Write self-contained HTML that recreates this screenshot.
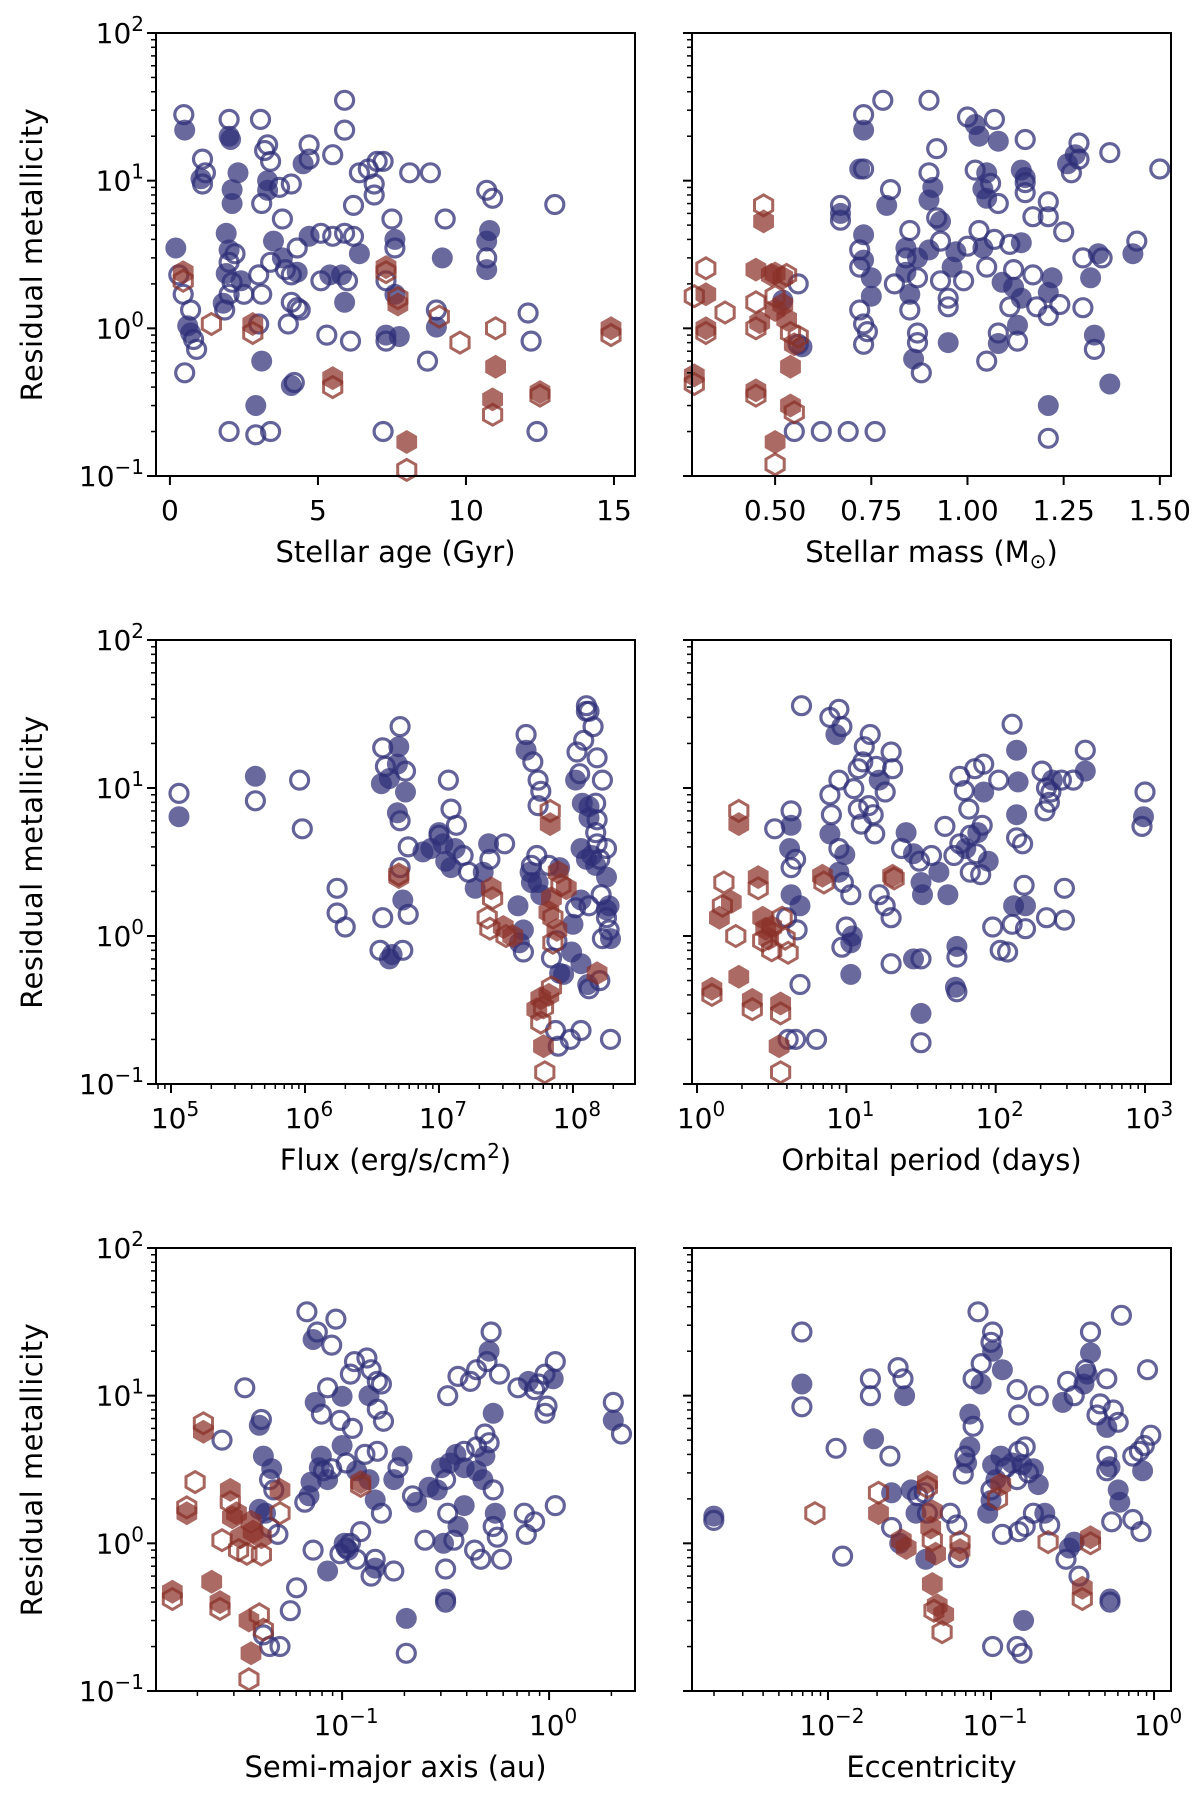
<!DOCTYPE html>
<html><head><meta charset="utf-8">
<style>
html,body{margin:0;padding:0;background:#fff;}
svg{display:block;font-family:"DejaVu Sans","Liberation Sans",sans-serif;}
</style></head>
<body>
<svg id="fig" width="1200" height="1798" viewBox="0 0 1200 1798" xmlns="http://www.w3.org/2000/svg"></svg>
<script>
// type codes: 0 = blue open circle, 1 = blue filled circle, 2 = red open hexagon, 3 = red filled hexagon
const agePoints = [[0.47,28,0],[0.5,22,1],[1.1,14,0],[1.2,11.3,0],[1.1,9.5,0],[1.05,10.3,1],[2.0,26,0],[2.0,20,1],[2.05,19,1],[3.06,26,0],[3.3,17.5,0],[3.4,13.5,0],[3.2,16,0],[3.3,10,1],[3.3,8.6,1],[3.1,7,0],[2.3,11.3,1],[2.1,8.7,1],[2.1,7,1],[3.7,9,0],[3.8,5.5,0],[4.1,9.5,0],[4.7,14,0],[4.7,17.5,0],[4.5,13,1],[5.5,15,0],[5.9,35,0],[5.9,22,0],[6.2,6.8,0],[6.4,11.3,0],[6.7,12,0],[7.0,13.5,0],[7.2,13.5,0],[6.9,9.5,0],[6.9,8,0],[7.5,5.5,0],[7.6,3.5,0],[7.6,4,1],[8.1,11.3,0],[8.8,11.3,0],[9.3,5.5,0],[9.2,3,1],[10.7,8.6,0],[10.9,7.6,0],[10.7,3.9,1],[10.8,4.6,1],[10.7,3,0],[10.7,2.5,1],[13,6.9,0],
[0.2,3.5,1],[0.3,2.3,0],[0.45,1.7,0],[0.45,2.4,3],[0.45,2.1,2],[0.7,0.93,1],[0.6,1.04,1],[0.7,1.33,0],[0.8,0.84,0],[0.9,0.72,0],[0.5,0.5,0],[1.4,1.07,2],[1.9,4.4,1],[1.9,2.35,1],[2.0,2.8,0],[2.0,3.4,1],[2.2,3.2,0],[2.1,2.05,0],[2.0,1.7,0],[1.8,1.48,1],[1.85,1.33,0],[2.4,2.1,1],[2.5,1.7,0],[2.8,1.07,3],[2.8,0.93,2],[3.0,1.07,0],[3.0,2.3,0],[3.1,1.7,0],[3.1,0.6,1],[2.9,0.3,1],[2.0,0.2,0],[2.9,0.19,0],[3.4,0.2,0],[3.4,2.8,0],[3.8,3.0,1],[3.5,3.9,1],[3.9,2.5,0],[4.3,2.4,1],[4.1,1.5,0],[4.3,1.38,0],[4.0,1.07,0],[4.4,1.33,0],[4.1,0.41,1],[4.2,0.43,0],[5.1,2.1,0],[5.4,2.3,1],[5.3,0.9,0],[5.5,0.46,3],[5.5,0.4,2],[5.8,2.3,1],[6.0,2.1,0],[5.9,1.5,1],[6.1,0.82,0],[5.1,4.4,0],[5.5,4.2,0],[5.9,4.4,0],[6.2,4.2,0],[6.4,3.2,1],[4.7,4.2,1],[4.3,3.5,0],[4.1,2.3,0],[7.3,2.1,0],[7.3,2.6,3],[7.3,2.4,2],[7.6,1.7,1],[7.7,1.45,3],[7.7,1.6,2],[7.3,0.9,1],[7.3,0.82,0],[7.75,0.88,1],[7.2,0.2,0],[8.0,0.17,3],[8.0,0.11,2],[9.0,1.33,0],[9.1,1.2,2],[9.0,1.02,1],[8.7,0.6,0],[9.8,0.8,2],[11.0,1.0,2],[11.0,0.55,3],[10.9,0.33,3],[10.9,0.26,2],[12.1,1.27,0],[12.2,0.82,0],[12.5,0.37,3],[12.5,0.35,2],[12.4,0.2,0],[14.9,1.0,3],[14.9,0.9,2]];

const massPoints = [[0.29,1.65,2],[0.32,2.55,2],[0.32,1.7,3],[0.32,1.0,3],[0.32,0.93,2],[0.29,0.48,3],[0.29,0.42,2],[0.47,6.8,2],[0.47,5.3,3],[0.37,1.28,2],[0.45,2.5,3],[0.45,1.5,2],[0.46,1.1,3],[0.45,1.0,2],[0.49,2.3,3],[0.5,2.35,3],[0.52,2.2,3],[0.53,2.3,2],[0.5,1.33,3],[0.5,1.65,2],[0.45,0.38,3],[0.45,0.35,2],[0.53,1.15,3],[0.54,0.93,2],[0.55,0.78,3],[0.56,0.88,2],[0.54,0.55,3],[0.54,0.3,3],[0.55,0.27,2],[0.5,0.17,3],[0.5,0.12,2],[0.52,1.45,3],
[0.52,1.55,1],[0.56,0.78,0],[0.57,0.75,1],[0.56,2.0,0],[0.55,0.2,0],[0.62,0.2,0],[0.69,0.2,0],[0.76,0.2,0],[0.67,6.8,0],[0.67,6,1],[0.67,5.4,0],[0.72,12,1],[0.73,12,0],[0.73,22,1],[0.73,28,0],[0.78,35,0],[0.8,8.7,0],[0.79,6.8,1],[0.73,4.3,1],[0.72,3.4,0],[0.72,2.6,0],[0.73,2.9,1],[0.75,2.2,1],[0.75,1.65,1],[0.72,1.33,0],[0.73,1.07,0],[0.74,0.95,0],[0.73,0.78,0],
[0.84,2.4,1],[0.81,2.0,0],[0.85,1.7,1],[0.85,1.33,0],[0.87,0.93,0],[0.86,0.62,1],[0.87,0.8,0],[0.88,0.5,0],[0.85,4.6,0],[0.84,3.5,1],[0.87,3,1],[0.84,3,0],[0.9,3.4,1],[0.87,2.2,0],[0.9,35,0],[0.92,16.5,0],[0.9,11.3,0],[0.91,9,1],[0.9,7.4,1],[0.92,5.6,0],[0.93,3.9,0],[0.93,5.3,1],[0.93,2.1,0],[0.95,1.4,0],[0.95,1.6,0],[0.95,0.8,1],[0.99,2.1,0],[1.0,27,0],[1.03,20,1],[1.02,24,1],[1.07,26,0],[1.08,18.5,1],[1.15,19,0],[1.02,11.8,0],[1.05,11.3,1],[1.06,9.6,0],[1.04,8.8,1],[1.05,7.6,1],[1.08,7.0,0],[1.03,4.6,0],[1.04,3.5,1],[1.07,4,0],[1.11,3.7,0],[1.14,3.8,1],[1.05,2.6,0],[1.09,2.05,1],[1.12,1.9,1],[1.14,1.6,1],[1.12,2.5,0],[1.17,2.3,0],[1.18,1.4,0],[1.11,1.4,0],[1.08,0.93,0],[1.13,0.82,0],[1.13,1.05,1],[1.05,0.6,0],[1.14,11.8,1],[1.15,10.5,1],[1.15,9.7,0],[1.15,8.3,0],[1.17,5.7,0],[1.21,7.2,0],[1.28,15,1],[1.29,14,0],[1.29,18,0],[1.37,15.5,0],[1.5,12,0],[1.21,5.7,0],[1.25,4.5,0],[1.22,2.2,1],[1.21,1.75,1],[1.24,1.45,0],[1.21,1.22,0],[1.3,1.38,0],[1.32,2.2,1],[1.3,3.0,0],[1.34,3.2,1],[1.35,3.0,0],[1.43,3.2,1],[1.44,3.9,0],[1.33,0.9,1],[1.33,0.72,0],[1.37,0.42,1],[1.21,0.3,1],[1.21,0.18,0],[1.08,0.79,1],[1.27,11.3,0],[1.26,13,1],[0.97,3.3,1],[1.0,3.6,0],[0.96,2.6,1]];

const logFluxPoints = [[5.06,9.2,0],[5.06,6.4,1],[5.63,12,1],[5.63,8.2,0],[5.96,11.3,0],[5.98,5.3,0],[6.24,2.1,0],[6.24,1.43,0],[6.3,1.15,0],[6.58,1.33,0],[6.56,0.8,0],[6.65,0.75,1],[6.63,0.7,1],[6.73,0.8,0],[6.57,10.7,1],[6.6,14,0],[6.58,18.7,0],[6.63,11.6,1],[6.69,14.5,1],[6.7,19,1],[6.71,26,0],[6.75,13,0],[6.75,9.4,1],[6.69,6.8,1],[6.71,6,0],[6.77,4.0,0],[6.73,1.75,1],[6.77,1.4,0],[6.71,2.9,0],[6.7,2.5,3],[6.7,2.6,2],
[6.88,3.7,1],[6.94,3.9,1],[7.03,4.2,1],[7.0,4.8,0],[7.09,7.2,0],[7.13,5.6,0],[7.05,3.2,1],[7.09,2.9,1],[7.12,3.9,1],[7.07,11.3,0],[7.0,5,1],[7.18,3.5,0],[7.22,2.7,0],[7.27,2.1,1],[7.33,2.7,1],[7.37,4.2,1],[7.38,3.3,0],[7.39,2.1,3],[7.4,1.8,2],[7.36,1.33,2],[7.38,1.12,2],[7.48,1.15,3],[7.5,1.0,2],[7.55,1.0,3],[7.6,0.9,1],[7.63,1.1,1],[7.63,0.78,0],[7.49,4.2,0],[7.59,1.6,1],[7.69,2.3,1],[7.69,3,0],[7.73,3.5,0],
[7.65,23,0],[7.65,18,1],[7.7,15,0],[7.74,11.3,0],[7.76,9.5,0],[7.74,7.6,0],[7.68,2.7,1],[7.74,2.3,1],[7.76,1.9,1],[7.84,1.8,3],[7.82,1.45,3],[7.85,1.33,2],[7.88,1.1,3],[7.85,0.9,2],[7.83,7,2],[7.83,5.7,3],[7.91,2.2,2],[7.89,2.7,3],[7.82,3.0,0],[7.9,2.9,1],[7.95,2.1,3],
[7.76,0.38,3],[7.78,0.33,2],[7.82,0.4,3],[7.84,0.45,2],[7.73,0.32,3],[7.76,0.26,2],[7.78,0.18,3],[7.79,0.12,2],[7.87,0.23,0],[7.89,0.18,0],[7.88,0.93,0],[7.84,0.71,0],[7.9,0.56,1],
[8.02,11.3,1],[8.05,12.5,0],[8.03,17.5,0],[8.08,21,0],[8.1,33,0],[8.1,36,0],[8.12,33,0],[8.15,26,0],[8.18,16,0],[8.22,11.3,0],[8.17,7.9,0],[8.18,6.1,0],[8.12,7.5,1],[8.07,7.9,1],[8.12,6.3,1],[8.17,5.0,0],[8.18,4.2,0],
[8.06,3.9,1],[8.1,3.3,1],[8.14,3.5,1],[8.17,3.0,1],[8.2,3.3,0],[8.25,3.9,0],[8.25,2.5,1],[8.21,1.9,0],[8.27,1.6,1],[8.25,1.33,0],[8.27,1.1,0],[8.22,0.96,0],[8.28,0.96,1],[8.25,1.5,1],[8.12,1.6,0],[8.06,1.75,1],[8.02,1.55,0],[8.0,1.2,1],[7.99,0.78,1],[8.06,0.65,1],[8.11,0.47,1],[8.12,0.44,0],[8.18,0.56,3],[8.2,0.5,0],[8.28,0.2,0],[8.06,0.23,0],[7.98,0.2,0],[7.93,0.55,1]];

const logPeriodPoints = [[0.1,0.44,3],[0.1,0.4,2],[0.28,0.53,3],[0.15,1.33,3],[0.17,1.6,2],[0.18,2.3,2],[0.28,7,2],[0.28,5.7,3],[0.37,0.37,3],[0.37,0.32,2],[0.56,0.35,3],[0.56,0.3,2],[0.55,0.18,3],[0.56,0.12,2],[0.26,1.0,2],[0.23,1.7,3],[0.41,2.5,3],[0.41,2.1,2],[0.44,1.33,3],[0.46,1.12,3],[0.44,0.93,2],[0.48,0.96,3],[0.5,1.15,3],[0.5,0.8,2],[0.59,0.96,2],[0.61,0.77,2],[0.57,1.33,2],[0.84,2.55,3],[0.85,2.3,2],[1.31,2.55,3],[1.32,2.45,2],
[0.52,5.3,0],[0.63,7,0],[0.63,5.6,1],[0.62,3.9,1],[0.66,3.3,0],[0.63,2.9,0],[0.63,1.9,1],[0.69,1.6,1],[0.6,1.33,0],[0.67,1.1,0],[0.69,0.47,0],[0.61,0.2,0],[0.66,0.2,0],[0.8,0.2,0],[0.7,36,0],[0.89,30,0],[0.95,34,0],[0.97,26,0],[0.93,23,1],[0.95,11.3,0],[0.89,9,0],[0.9,6.6,0],[0.89,4.9,1],[0.95,3.9,0],[0.99,3.55,1],[0.95,2.7,1],[0.98,2.3,0],[1.03,1.9,0],[1.0,1.15,0],[1.04,1.0,1],[1.03,0.9,1],[0.97,0.84,0],[1.03,0.55,1],[1.08,13.5,0],[1.11,15,0],[1.05,9.9,0],[1.08,7.2,0],[1.1,5.7,0],[1.15,7.6,0],[1.18,6.6,0],[1.22,11.3,1],[1.26,9.4,0],[1.2,14,0],[1.12,19,0],[1.16,23,0],[1.3,17.5,0],[1.31,13.5,0],[1.19,4.9,0],[1.22,1.9,0],[1.26,1.6,0],[1.3,1.33,0],[1.3,0.65,0],[1.4,5.0,1],[1.37,3.9,0],[1.45,3.6,1],[1.49,3.2,0],[1.5,2.3,1],[1.51,1.9,1],[1.45,0.7,1],[1.5,0.7,0],[1.5,0.3,1],[1.5,0.19,0],[1.57,3.5,0],[1.62,2.7,1],[1.66,5.5,0],[1.68,1.9,1],[1.74,0.85,1],[1.74,0.72,0],[1.73,0.45,1],[1.74,0.42,0],
[1.72,3.5,0],[1.76,4.2,0],[1.83,4.8,0],[1.88,5.0,1],[1.91,5.6,0],[1.8,3.9,1],[1.87,3.6,0],[1.95,3.2,1],[1.83,2.7,0],[1.9,2.6,0],[1.92,9.4,1],[1.86,13.5,0],[1.92,14.5,0],[1.76,12,0],[1.79,9.6,0],[1.82,7.2,0],[2.02,11.3,0],[2.14,18,1],[2.11,27,0],[2.15,11,1],[2.14,6.6,1],[2.14,4.6,0],[2.18,4.2,0],[1.98,1.15,0],[2.03,0.8,0],[2.08,0.78,0],[2.11,1.2,0],[2.12,1.6,1],[2.2,1.6,1],[2.19,2.2,0],[2.2,1.12,0],[2.31,13,0],[2.34,10,0],[2.37,9.4,0],[2.36,8,0],[2.33,7,0],[2.38,11.3,1],[2.44,11.3,0],[2.52,11.3,0],[2.6,13,1],[2.6,18,0],[2.34,1.33,0],[2.46,1.28,0],[2.46,2.1,0],[3.0,9.4,0],[2.99,6.4,1],[2.98,5.5,0]];

const logSmaPoints = [[-1.82,0.47,3],[-1.82,0.42,2],[-1.75,1.6,3],[-1.75,1.75,2],[-1.71,2.6,2],[-1.67,6.5,2],[-1.67,5.7,3],[-1.63,0.55,3],[-1.59,0.4,3],[-1.59,0.36,2],[-1.58,1.05,2],[-1.54,2.3,3],[-1.54,1.9,2],[-1.53,1.5,3],[-1.51,1.6,3],[-1.49,1.1,3],[-1.5,0.9,2],[-1.46,0.85,2],[-1.44,1.4,3],[-1.43,1.2,3],[-1.39,1.1,3],[-1.39,0.84,2],[-1.45,0.3,3],[-1.44,0.18,3],[-1.45,0.12,2],[-1.4,0.33,2],[-1.38,0.26,2],[-1.3,2.3,3],[-1.3,1.6,2],[-0.91,2.6,3],[-0.91,2.45,2],
[-1.58,5.0,0],[-1.47,11.3,0],[-1.4,6.3,1],[-1.39,6.9,0],[-1.38,3.9,1],[-1.34,3.2,1],[-1.35,2.7,0],[-1.33,2.3,0],[-1.4,1.7,1],[-1.37,1.6,1],[-1.35,1.28,0],[-1.31,1.15,0],[-1.38,0.24,0],[-1.35,0.2,0],[-1.3,0.2,0],[-1.25,0.35,0],[-1.22,0.5,0],[-1.14,0.9,0],[-1.18,1.9,0],[-1.16,2.1,1],[-1.15,2.6,1],[-1.11,3.25,1],[-1.1,3.9,1],[-1.09,3.1,0],[-1.07,2.7,1],[-1.05,3.2,0],[-1.13,9,1],[-1.1,7.5,0],[-1.07,11.3,0],[-1.17,37,0],[-1.12,27,0],[-1.14,24,1],[-1.05,22,0],[-1.03,33,0],[-1.01,6.8,0],[-0.96,14,0],[-0.94,17,0],[-1.0,9.9,1],[-0.95,6.0,0],[-1.0,4.6,1],[-0.98,3.5,0],[-0.93,3.1,1],[-0.88,18,0],[-0.86,15,0],[-0.81,12,0],[-0.87,10,1],[-0.83,12.5,0],[-0.83,8.1,0],[-0.8,6.7,0],[-0.83,4.2,0],[-0.89,4.0,0],[-0.87,2.7,1],[-0.84,1.97,1],[-0.81,1.6,0],[-0.75,2.7,1],[-0.73,3.25,0],[-0.71,3.9,1],[-0.66,2.1,0],[-0.64,1.9,1],[-0.91,1.2,0],[-0.96,1.0,0],[-1.01,0.85,0],[-1.07,0.65,1],[-0.98,0.93,0],[-0.99,1.0,1],[-0.97,0.9,1],[-0.93,0.78,0],[-0.84,0.78,0],[-0.84,0.68,1],[-0.86,0.6,0],[-0.69,0.31,1],[-0.69,0.18,0],
[-0.58,2.4,1],[-0.54,2.3,1],[-0.5,2.7,0],[-0.52,3.25,1],[-0.48,3.5,1],[-0.45,4.0,1],[-0.41,4.2,0],[-0.41,3.25,1],[-0.35,4.5,0],[-0.35,3.1,1],[-0.32,2.7,1],[-0.31,3.9,1],[-0.29,4.8,0],[-0.31,5.5,0],[-0.27,7.6,1],[-0.3,17,0],[-0.24,14,0],[-0.15,11.3,0],[-0.1,12.5,1],[-0.07,11,0],[-0.05,12,0],[-0.02,14,0],[0.02,13,1],[0.03,17,0],[-0.01,8.5,0],[-0.02,7.6,0],[-0.29,20,1],[-0.28,27,0],[-0.35,15,0],[-0.38,12.5,0],[-0.49,10,0],[-0.44,13.5,0],[-0.49,1.6,0],[-0.44,1.3,1],[-0.46,1.05,0],[-0.41,1.8,1],[-0.27,2.3,0],[-0.27,1.3,0],[-0.26,1.6,1],[-0.25,1.1,0],[-0.23,0.78,0],[-0.33,0.78,0],[-0.36,0.9,0],[-0.5,0.42,1],[-0.5,0.4,0],[-0.51,1.0,1],[-0.5,0.67,0],[-0.6,1.05,0],[-0.75,0.65,0],[-0.12,1.6,0],[-0.11,1.15,0],[-0.07,1.4,0],[0.03,1.8,0],[0.31,9,0],[0.31,6.8,1],[0.35,5.5,0]];

const logEccPoints = [[-2.7,1.53,1],[-2.7,1.43,0],[-2.08,1.6,2],[-2.16,12,1],[-2.16,8.4,0],[-2.16,27,0],[-1.95,4.4,0],[-1.91,0.82,0],[-1.74,13,0],[-1.74,10,0],[-1.72,5.1,1],[-1.62,3.9,0],[-1.57,15.5,0],[-1.54,13,0],[-1.53,10,1],[-1.69,1.6,3],[-1.69,2.2,2],[-1.61,2.2,1],[-1.61,1.28,0],[-1.56,1.0,1],[-1.55,1.05,3],[-1.52,0.93,3],[-1.49,2.3,1],[-1.45,2.1,0],[-1.46,1.6,1],[-1.41,2.2,0],[-1.39,2.6,3],[-1.39,2.4,2],[-1.36,1.65,3],[-1.39,1.6,0],[-1.37,1.28,3],[-1.36,1.05,2],[-1.4,0.78,1],[-1.34,0.85,3],[-1.36,0.53,3],[-1.33,0.38,3],[-1.35,0.35,2],[-1.29,0.33,3],[-1.3,0.25,2],[-1.25,1.6,0],[-1.21,1.33,0],[-1.19,1.02,2],[-1.19,0.9,3],[-1.2,0.8,0],[-1.17,2.95,0],[-1.16,3.9,0],[-1.15,3.5,1],[-1.13,4.5,1],[-1.11,6.2,0],[-1.13,7.5,1],[-1.11,13,0],[-1.06,16.5,0],[-1.06,12,1],[-1.08,37,0],[-1.0,23,0],[-0.99,27,0],[-0.99,20,1],[-0.93,15,1],[-1.0,2.3,0],[-0.97,2.7,1],[-0.99,3.4,1],[-0.94,3.9,1],[-0.91,3.25,0],[-0.87,3.5,1],[-0.84,2.7,0],[-0.81,3.4,1],[-0.77,3.0,0],[-0.74,3.2,1],[-0.71,2.5,1],[-0.79,4.5,0],[-0.83,4.2,0],[-0.94,2.5,3],[-0.96,2.0,2],[-1.02,1.6,1],[-1.0,1.95,1],[-0.93,1.15,0],[-0.83,1.2,0],[-0.79,1.3,0],[-0.74,1.6,0],[-0.84,0.2,0],[-0.81,0.18,0],[-0.8,0.3,1],[-0.99,0.2,0],[-0.71,10,0],[-0.84,11,0],[-0.83,7.4,0],
[-0.67,1.6,1],[-0.64,1.33,0],[-0.65,1.02,2],[-0.52,0.93,1],[-0.54,0.78,0],[-0.49,1.02,1],[-0.46,0.6,0],[-0.44,0.5,3],[-0.44,0.42,2],[-0.39,1.1,3],[-0.39,1.0,2],[-0.56,9,1],[-0.53,12.5,0],[-0.49,10,0],[-0.43,12,1],[-0.41,14,1],[-0.39,19.5,1],[-0.39,27,0],[-0.42,15,0],[-0.29,13,0],[-0.33,8.8,0],[-0.25,8,0],[-0.22,6.6,0],[-0.2,35,0],[-0.04,15,0],[-0.35,7.4,0],[-0.29,6.1,1],[-0.29,3.9,0],[-0.29,3.1,0],[-0.27,3.3,1],[-0.22,2.3,1],[-0.21,1.9,1],[-0.13,3.9,0],[-0.09,4.2,0],[-0.07,3.1,1],[-0.06,4.6,0],[-0.02,5.4,0],[-0.26,1.4,0],[-0.13,1.45,0],[-0.08,1.2,0],[-0.27,0.42,1],[-0.27,0.4,0]];

const yTickExp = [-1, 0, 1, 2];
const ageTicks = ["0","5","10","15"];
const massTicks = ["0.50","0.75","1.00","1.25","1.50"];

const NS = "http://www.w3.org/2000/svg";
const svg = document.getElementById('fig');
function mk(tag, attrs, parent) {
  const e = document.createElementNS(NS, tag);
  for (const k in attrs) e.setAttribute(k, attrs[k]);
  (parent || svg).appendChild(e);
  return e;
}
const COLS = [[156, 635], [692, 1171]];
const ROWS = [[33, 476], [640, 1084], [1248, 1691]];
const BLUE = "#2f2f78", RED = "#8a3128";

function yScale(row) {
  const [t, b] = ROWS[row];
  return v => b - (Math.log10(v) + 1) / 3 * (b - t);
}
function linScale(col, d0, d1) {
  const [l, r] = COLS[col];
  return v => l + (v - d0) / (d1 - d0) * (r - l);
}

function supLabel(parent, x, y, exp, anchor, name) {
  const t = mk('text', {x: x, y: y, 'font-size': 28, 'text-anchor': anchor, fill: '#000'}, parent);
  
  
  t.appendChild(document.createTextNode('10'));
  const s = mk('tspan', {'font-size': 20, dy: -12}, t);
  s.textContent = exp < 0 ? '\u2212' + (-exp) : String(exp);
  return t;
}

function hexPath(cx, cy, r) {
  let d = '';
  for (let i = 0; i < 6; i++) {
    const a = Math.PI / 3 * i - Math.PI / 2;
    d += (i ? 'L' : 'M') + (cx + r * Math.cos(a)).toFixed(1) + ' ' + (cy + r * Math.sin(a)).toFixed(1);
  }
  return d + 'Z';
}

function panel(row, col, pts, xf, xTicks, xMinor, title, name) {
  const g = mk('g', {});
  
  
  const [l, r] = COLS[col], [t, b] = ROWS[row];
  const yf = yScale(row);
  // markers
  const mg = mk('g', {}, g);
  
  
  const order = [1, 0, 3, 2];
  order.forEach(type => {
    pts.forEach(p => {
      if (p[2] !== type) return;
      const cx = xf(p[0]), cy = yf(p[1]);
      let el;
      if (type < 2) {
        el = mk('circle', {cx: cx.toFixed(1), cy: cy.toFixed(1), r: type ? 10.5 : 9,
          fill: type ? BLUE : 'none', 'fill-opacity': 0.72,
          stroke: BLUE, 'stroke-width': type ? 0 : 3.2, 'stroke-opacity': 0.75}, mg);
        
      } else {
        el = mk('path', {d: hexPath(cx, cy, type === 3 ? 12 : 10.5),
          fill: type === 3 ? RED : 'none', 'fill-opacity': 0.72,
          stroke: RED, 'stroke-width': type === 3 ? 0 : 3, 'stroke-opacity': 0.75}, mg);
        
      }
      
    });
  });
  // frame
  const fr = mk('rect', {x: l, y: t, width: r - l, height: b - t, fill: 'none', stroke: '#000', 'stroke-width': 2}, g);
  
  
  // y ticks
  for (let e = -1; e <= 1; e++) {
    for (let m = 2; m <= 9; m++) {
      const y = yf(m * Math.pow(10, e));
      mk('line', {x1: l - 5, x2: l, y1: y, y2: y, stroke: '#000', 'stroke-width': 1.5}, g);
    }
  }
  yTickExp.forEach(e => {
    const y = yf(Math.pow(10, e));
    mk('line', {x1: l - 9, x2: l, y1: y, y2: y, stroke: '#000', 'stroke-width': 2}, g);
    if (col === 0) supLabel(g, l - 12, y + 10, e, 'end', 'y-tick-label');
  });
  // x ticks
  xMinor.forEach(v => {
    const x = xf(v);
    if (x < l - 0.5 || x > r + 0.5) return;
    mk('line', {x1: x, x2: x, y1: b, y2: b + 5, stroke: '#000', 'stroke-width': 1.5}, g);
  });
  xTicks.forEach(tk => {
    const x = xf(tk.v);
    mk('line', {x1: x, x2: x, y1: b, y2: b + 9, stroke: '#000', 'stroke-width': 2}, g);
    if (tk.exp !== undefined) {
      supLabel(g, x + 4, b + 44, tk.exp, 'middle', 'x-tick-label');
    } else {
      const tx = mk('text', {x: x, y: b + 44, 'font-size': 28, 'text-anchor': 'middle'}, g);
      
      
      tx.textContent = tk.label;
    }
  });
  const xt = mk('text', {x: (l + r) / 2, y: b + 86, 'font-size': 29, 'text-anchor': 'middle'}, g);
  
  
  title(xt);
  if (col === 0) {
    const cy = (t + b) / 2;
    const yt = mk('text', {x: 42, y: cy, 'font-size': 29, 'text-anchor': 'middle', transform: 'rotate(-90 42 ' + cy + ')', 'letter-spacing': 0.5}, g);
    
    
    yt.textContent = 'Residual metallicity';
  }
}

function logTicks(e0, e1) { const a = []; for (let e = e0; e <= e1; e++) a.push({v: e, exp: e}); return a; }
function logMinor(e0, e1) { const a = []; for (let e = e0; e <= e1; e++) for (let m = 2; m <= 9; m++) a.push(e + Math.log10(m)); return a; }
function simpleTitle(s) { return el => { el.textContent = s; }; }

// Panel 1: stellar age
panel(0, 0, agePoints, linScale(0, -0.47, 15.71),
  ageTicks.map(s => ({v: +s, label: s})), [], simpleTitle('Stellar age (Gyr)'), 'panel-stellar-age');
// Panel 2: stellar mass
panel(0, 1, massPoints, linScale(1, 0.284, 1.529),
  massTicks.map(s => ({v: +s, label: s})), [], el => {
    el.appendChild(document.createTextNode('Stellar mass (M'));
    const s = mk('tspan', {'font-size': 20, dy: 6}, el); s.textContent = '\u2299';
    const s2 = mk('tspan', {dy: -6}, el); s2.textContent = ')';
  }, 'panel-stellar-mass');
// Panel 3: flux
panel(1, 0, logFluxPoints, linScale(0, 4.888, 8.463), logTicks(5, 8), logMinor(4, 8), el => {
  el.appendChild(document.createTextNode('Flux (erg/s/cm'));
  const s = mk('tspan', {'font-size': 20, dy: -12}, el); s.textContent = '2';
  const s2 = mk('tspan', {dy: 12}, el); s2.textContent = ')';
}, 'panel-flux');
// Panel 4: orbital period
panel(1, 1, logPeriodPoints, linScale(1, -0.0335, 3.174), logTicks(0, 3), logMinor(0, 3), simpleTitle('Orbital period (days)'), 'panel-orbital-period');
// Panel 5: semi-major axis
panel(2, 0, logSmaPoints, linScale(0, -1.899, 0.415), logTicks(-1, 0), logMinor(-2, 0), simpleTitle('Semi-major axis (au)'), 'panel-semi-major-axis');
// Panel 6: eccentricity
panel(2, 1, logEccPoints, linScale(1, -2.834, 0.104), logTicks(-2, 0), logMinor(-3, 0), simpleTitle('Eccentricity'), 'panel-eccentricity');
</script>
</body></html>
